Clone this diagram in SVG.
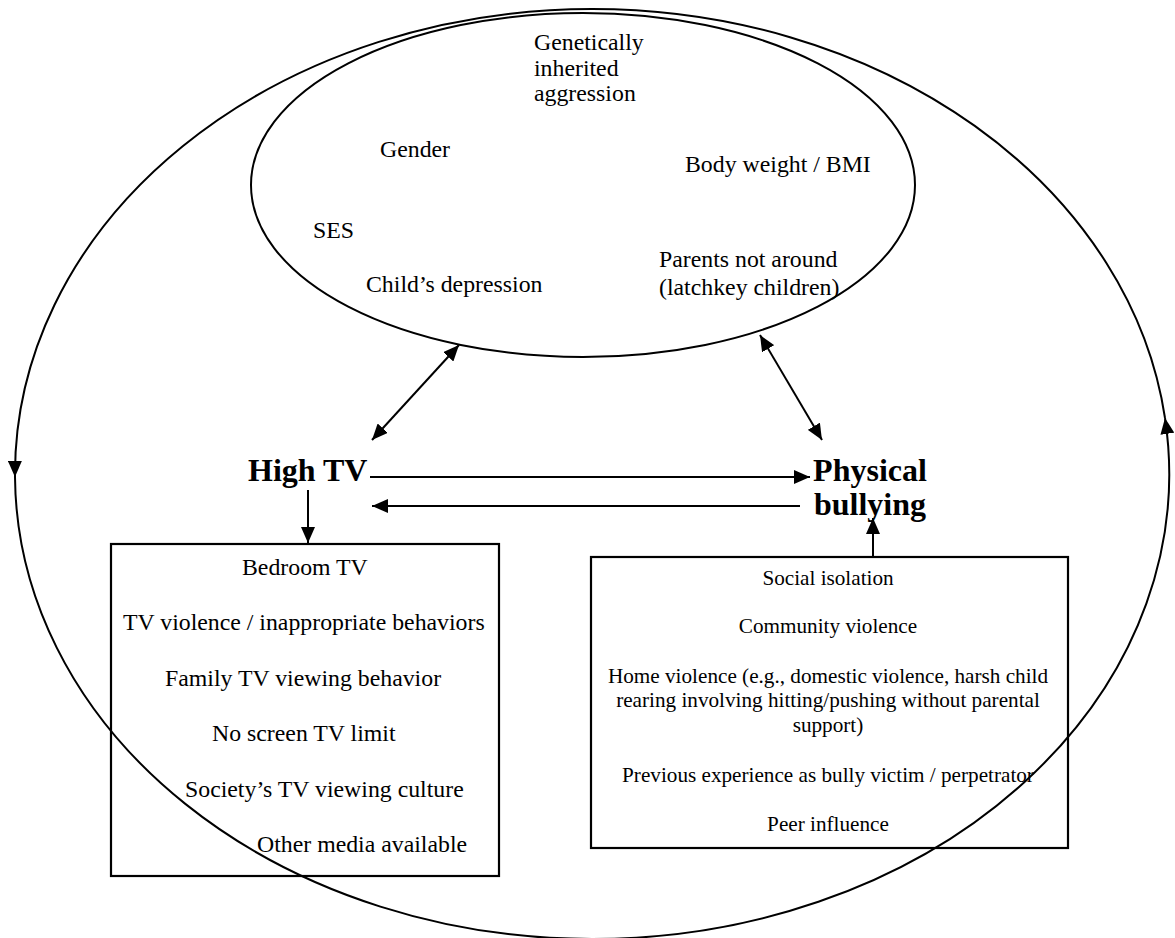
<svg xmlns="http://www.w3.org/2000/svg" width="1175" height="938" viewBox="0 0 1175 938">
<style>
text{font-family:'Liberation Serif','DejaVu Serif',serif;fill:#000}
.t{font-size:23.8px}
.s{font-size:21.2px;text-anchor:middle}
.b{font-size:32px;font-weight:bold}
.ln{fill:none;stroke:#000;stroke-width:2}
.bx{fill:none;stroke:#000;stroke-width:2.2}
</style>
<defs>
<marker id="ah" viewBox="0 0 16 14" refX="16" refY="7" markerWidth="16" markerHeight="14" markerUnits="userSpaceOnUse" orient="auto-start-reverse">
<path d="M0,0 L16,7 L0,14 Z" fill="#000"/>
</marker>
</defs>
<rect width="1175" height="938" fill="#fff"/>
<g id="connectors">
<path class="ln" d="M592,9 A577,465 0 0 0 15,477" marker-end="url(#ah)"/>
<path class="ln" d="M15,477 A577,465 0 0 0 592,939"/>
<path class="ln" d="M592,939 A577,465 0 0 0 1165,418" marker-end="url(#ah)"/>
<path class="ln" d="M1165,418 A577,465 0 0 0 592,9"/>
<line class="ln" x1="372" y1="440" x2="459" y2="345" marker-start="url(#ah)" marker-end="url(#ah)"/>
<line class="ln" x1="760" y1="335" x2="822" y2="440" marker-start="url(#ah)" marker-end="url(#ah)"/>
<line class="ln" x1="370" y1="477" x2="810" y2="477" marker-end="url(#ah)"/>
<line class="ln" x1="800" y1="506" x2="372" y2="506" marker-end="url(#ah)"/>
<line class="ln" x1="308" y1="490" x2="308" y2="543" marker-end="url(#ah)"/>
<line class="ln" x1="873" y1="557" x2="873" y2="518" marker-end="url(#ah)"/>
</g>
<g id="node-factors" font-family="Liberation Serif, serif">
<ellipse class="ln" cx="583" cy="185" rx="332" ry="172"/>
<text class="t" x="534" y="50">Genetically</text>
<text class="t" x="534" y="76">inherited</text>
<text class="t" x="534" y="101">aggression</text>
<text class="t" x="380" y="157">Gender</text>
<text class="t" x="685" y="172">Body weight / BMI</text>
<text class="t" x="313" y="238">SES</text>
<text class="t" x="659" y="267">Parents not around</text>
<text class="t" x="659" y="295">(latchkey children)</text>
<text class="t" x="366" y="292">Child’s depression</text>
</g>
<g id="node-hightv" font-family="Liberation Serif, serif">
<text class="b" x="248" y="481">High TV</text>
</g>
<g id="node-bullying" font-family="Liberation Serif, serif">
<text class="b" x="870" y="481" text-anchor="middle">Physical</text>
<text class="b" x="870" y="515" text-anchor="middle">bullying</text>
</g>
<g id="node-tvfactors" font-family="Liberation Serif, serif">
<rect class="bx" x="111" y="544" width="388" height="332"/>
<text class="t" x="242" y="575">Bedroom TV</text>
<text class="t" x="123" y="630">TV violence / inappropriate behaviors</text>
<text class="t" x="165" y="686">Family TV viewing behavior</text>
<text class="t" x="212" y="741">No screen TV limit</text>
<text class="t" x="185" y="797">Society’s TV viewing culture</text>
<text class="t" x="257" y="852">Other media available</text>
</g>
<g id="node-socialfactors" font-family="Liberation Serif, serif">
<rect class="bx" x="591" y="557" width="477" height="291"/>
<text class="s" x="828" y="585">Social isolation</text>
<text class="s" x="828" y="633">Community violence</text>
<text class="s" x="828" y="683">Home violence (e.g., domestic violence, harsh child</text>
<text class="s" x="828" y="707">rearing involving hitting/pushing without parental</text>
<text class="s" x="828" y="732">support)</text>
<text class="s" x="828" y="782">Previous experience as bully victim / perpetrator</text>
<text class="s" x="828" y="831">Peer influence</text>
</g>
</svg>
